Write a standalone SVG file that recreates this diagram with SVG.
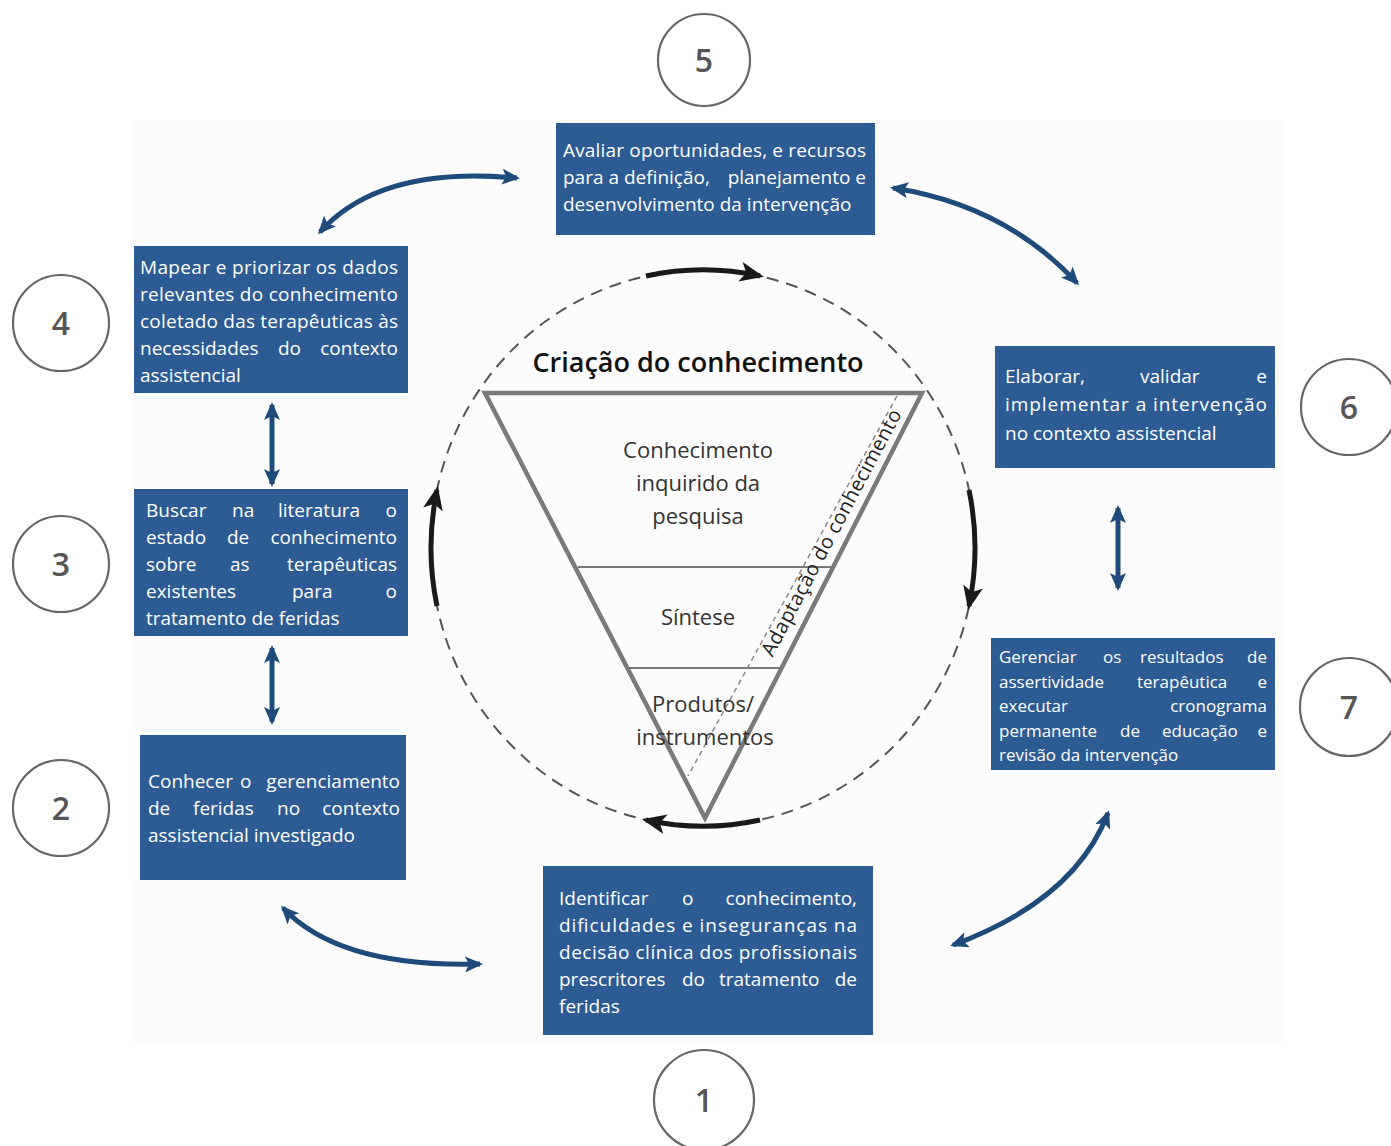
<svg xmlns="http://www.w3.org/2000/svg" width="1391" height="1146" viewBox="0 0 1391 1146">
<style>
.box{fill:#2d5b94}
.bt{fill:#ffffff;font-family:"Open Sans","Liberation Sans",sans-serif;font-size:19px}
.bt7{fill:#ffffff;font-family:"Open Sans","Liberation Sans",sans-serif;font-size:17px}
.num{fill:none;stroke:#666;stroke-width:2.2}
.nt{fill:#555;font-family:"Open Sans","Liberation Sans",sans-serif;font-size:32px;font-weight:600;text-anchor:middle}
.it{fill:#333;font-family:"Open Sans","Liberation Sans",sans-serif;font-size:22px;text-anchor:middle}
.blk{fill:none;stroke:#1a1a1a;stroke-width:5;marker-end:url(#ah)}
.blu{fill:none;stroke:#1f4b7a;stroke-width:5;marker-start:url(#bh);marker-end:url(#bh)}
.end{text-anchor:end}
</style>
<defs>
<marker id="ah" viewBox="0 0 24 20" markerWidth="24" markerHeight="20" refX="20" refY="10" orient="auto" markerUnits="userSpaceOnUse">
<path d="M0,0 L24,10 L0,20 L6,10 z" fill="#1a1a1a"/>
</marker>
<marker id="bh" viewBox="0 0 18 16" markerWidth="18" markerHeight="16" refX="15" refY="8" orient="auto-start-reverse" markerUnits="userSpaceOnUse">
<path d="M0,0 L18,8 L0,16 L4,8 z" fill="#1f4b7a"/>
</marker>
</defs>
<rect x="0" y="0" width="1391" height="1146" fill="#ffffff"/>
<rect x="130" y="120" width="1153" height="923" fill="#fcfcfc"/>

<g id="cycle">
<ellipse cx="703" cy="548" rx="272" ry="278" fill="none" stroke="#555" stroke-width="2" stroke-dasharray="12 8"/>
</g>

<g id="triangle">
<path d="M485,393 L922,393 L705,818 Z" fill="none" stroke="#7a7a7a" stroke-width="4.5" stroke-linejoin="miter"/>
<line x1="578" y1="567" x2="831" y2="567" stroke="#7a7a7a" stroke-width="2"/>
<line x1="629" y1="668" x2="781" y2="668" stroke="#7a7a7a" stroke-width="2"/>
<line x1="897" y1="396" x2="688" y2="776" stroke="#888" stroke-width="1.5" stroke-dasharray="5 4"/>
<text x="698" y="372" fill="#111" font-family="'Open Sans','Liberation Sans',sans-serif" font-size="27" font-weight="600" text-anchor="middle">Criação do conhecimento</text>
<text class="it" x="698" y="458">Conhecimento</text>
<text class="it" x="698" y="491">inquirido da</text>
<text class="it" x="698" y="524">pesquisa</text>
<text class="it" x="698" y="625">Síntese</text>
<text class="it" x="703" y="712">Produtos/</text>
<text class="it" x="705" y="745">instrumentos</text>
<text x="0" y="0" transform="translate(832,533) rotate(-62)" fill="#222" font-family="'Open Sans','Liberation Sans',sans-serif" font-size="20" text-anchor="middle" dy="6" textLength="276" lengthAdjust="spacing">Adaptação do conhecimento</text>
</g>

<g id="connectors">
<path class="blk" d="M646,276 A272 278 0 0 1 760,276"/>
<path class="blk" d="M969,490 A272 278 0 0 1 969,606"/>
<path class="blk" d="M760,820 A272 278 0 0 1 646,820"/>
<path class="blk" d="M437,606 A272 278 0 0 1 437,490"/>
<path class="blu" d="M320,232 Q380,165 517,178"/>
<path class="blu" d="M893,188 Q1005,205 1077,283"/>
<path class="blu" d="M283,908 Q340,968 480,964"/>
<path class="blu" d="M953,945 Q1075,900 1108,813"/>
<line class="blu" x1="272" y1="405" x2="272" y2="484"/>
<line class="blu" x1="272" y1="648" x2="272" y2="722"/>
<line class="blu" x1="1118" y1="508" x2="1118" y2="588"/>
</g>

<g id="n5">
<circle class="num" cx="704" cy="60" r="46"/>
<text class="nt" x="704" y="72">5</text>
<rect class="box" x="556" y="123" width="319" height="112"/>
<text class="bt" x="563" y="157" textLength="303" lengthAdjust="spacing">Avaliar oportunidades, e recursos</text>
<text class="bt" y="184"><tspan x="563">para a definição,</tspan><tspan x="866" class="end">planejamento e</tspan></text>
<text class="bt" x="563" y="211">desenvolvimento da intervenção</text>
</g>

<g id="n4">
<circle class="num" cx="61" cy="323" r="48"/>
<text class="nt" x="61" y="335">4</text>
<rect class="box" x="134" y="246" width="274" height="147"/>
<text class="bt" x="140" y="274" textLength="258" lengthAdjust="spacing">Mapear e priorizar os dados</text>
<text class="bt" x="140" y="301" textLength="258" lengthAdjust="spacing">relevantes do conhecimento</text>
<text class="bt" x="140" y="328" textLength="258" lengthAdjust="spacing">coletado das terapêuticas às</text>
<text class="bt" y="355"><tspan x="140">necessidades</tspan><tspan x="278">do</tspan><tspan x="398" class="end">contexto</tspan></text>
<text class="bt" x="140" y="382">assistencial</text>
</g>

<g id="n3">
<circle class="num" cx="61" cy="564" r="48"/>
<text class="nt" x="61" y="576">3</text>
<rect class="box" x="134" y="489" width="274" height="147"/>
<text class="bt" y="517"><tspan x="146">Buscar</tspan><tspan x="232">na</tspan><tspan x="278">literatura</tspan><tspan x="397" class="end">o</tspan></text>
<text class="bt" y="544"><tspan x="146">estado</tspan><tspan x="227">de</tspan><tspan x="397" class="end">conhecimento</tspan></text>
<text class="bt" y="571"><tspan x="146">sobre</tspan><tspan x="230">as</tspan><tspan x="397" class="end">terapêuticas</tspan></text>
<text class="bt" y="598"><tspan x="146">existentes</tspan><tspan x="292">para</tspan><tspan x="397" class="end">o</tspan></text>
<text class="bt" x="146" y="625">tratamento de feridas</text>
</g>

<g id="n2">
<circle class="num" cx="61" cy="808" r="48"/>
<text class="nt" x="61" y="820">2</text>
<rect class="box" x="140" y="735" width="266" height="145"/>
<text class="bt" y="788"><tspan x="148">Conhecer</tspan><tspan x="240">o</tspan><tspan x="400" class="end">gerenciamento</tspan></text>
<text class="bt" y="815"><tspan x="148">de</tspan><tspan x="193">feridas</tspan><tspan x="277">no</tspan><tspan x="400" class="end">contexto</tspan></text>
<text class="bt" x="148" y="842">assistencial investigado</text>
</g>

<g id="n1">
<circle class="num" cx="704" cy="1100" r="50"/>
<text class="nt" x="704" y="1112">1</text>
<rect class="box" x="543" y="866" width="330" height="169"/>
<text class="bt" y="905"><tspan x="559">Identificar</tspan><tspan x="682">o</tspan><tspan x="857" class="end">conhecimento,</tspan></text>
<text class="bt" x="559" y="932" textLength="298" lengthAdjust="spacing">dificuldades e inseguranças na</text>
<text class="bt" x="559" y="959" textLength="298" lengthAdjust="spacing">decisão clínica dos profissionais</text>
<text class="bt" y="986"><tspan x="559">prescritores</tspan><tspan x="682">do</tspan><tspan x="719">tratamento</tspan><tspan x="857" class="end">de</tspan></text>
<text class="bt" x="559" y="1013">feridas</text>
</g>

<g id="n6">
<circle class="num" cx="1349" cy="407" r="48"/>
<text class="nt" x="1349" y="419">6</text>
<rect class="box" x="995" y="346" width="280" height="122"/>
<text class="bt" y="383"><tspan x="1005">Elaborar,</tspan><tspan x="1140">validar</tspan><tspan x="1267" class="end">e</tspan></text>
<text class="bt" x="1005" y="411" textLength="262" lengthAdjust="spacing">implementar a intervenção</text>
<text class="bt" x="1005" y="440">no contexto assistencial</text>
</g>

<g id="n7">
<circle class="num" cx="1349" cy="707" r="49"/>
<text class="nt" x="1349" y="719">7</text>
<rect class="box" x="991" y="638" width="284" height="132"/>
<text class="bt7" y="663"><tspan x="999">Gerenciar</tspan><tspan x="1103">os</tspan><tspan x="1140">resultados</tspan><tspan x="1267" class="end">de</tspan></text>
<text class="bt7" y="688"><tspan x="999">assertividade</tspan><tspan x="1137">terapêutica</tspan><tspan x="1267" class="end">e</tspan></text>
<text class="bt7" y="712"><tspan x="999">executar</tspan><tspan x="1267" class="end">cronograma</tspan></text>
<text class="bt7" y="737"><tspan x="999">permanente</tspan><tspan x="1120">de</tspan><tspan x="1162">educação</tspan><tspan x="1267" class="end">e</tspan></text>
<text class="bt7" x="999" y="761">revisão da intervenção</text>
</g>
</svg>
